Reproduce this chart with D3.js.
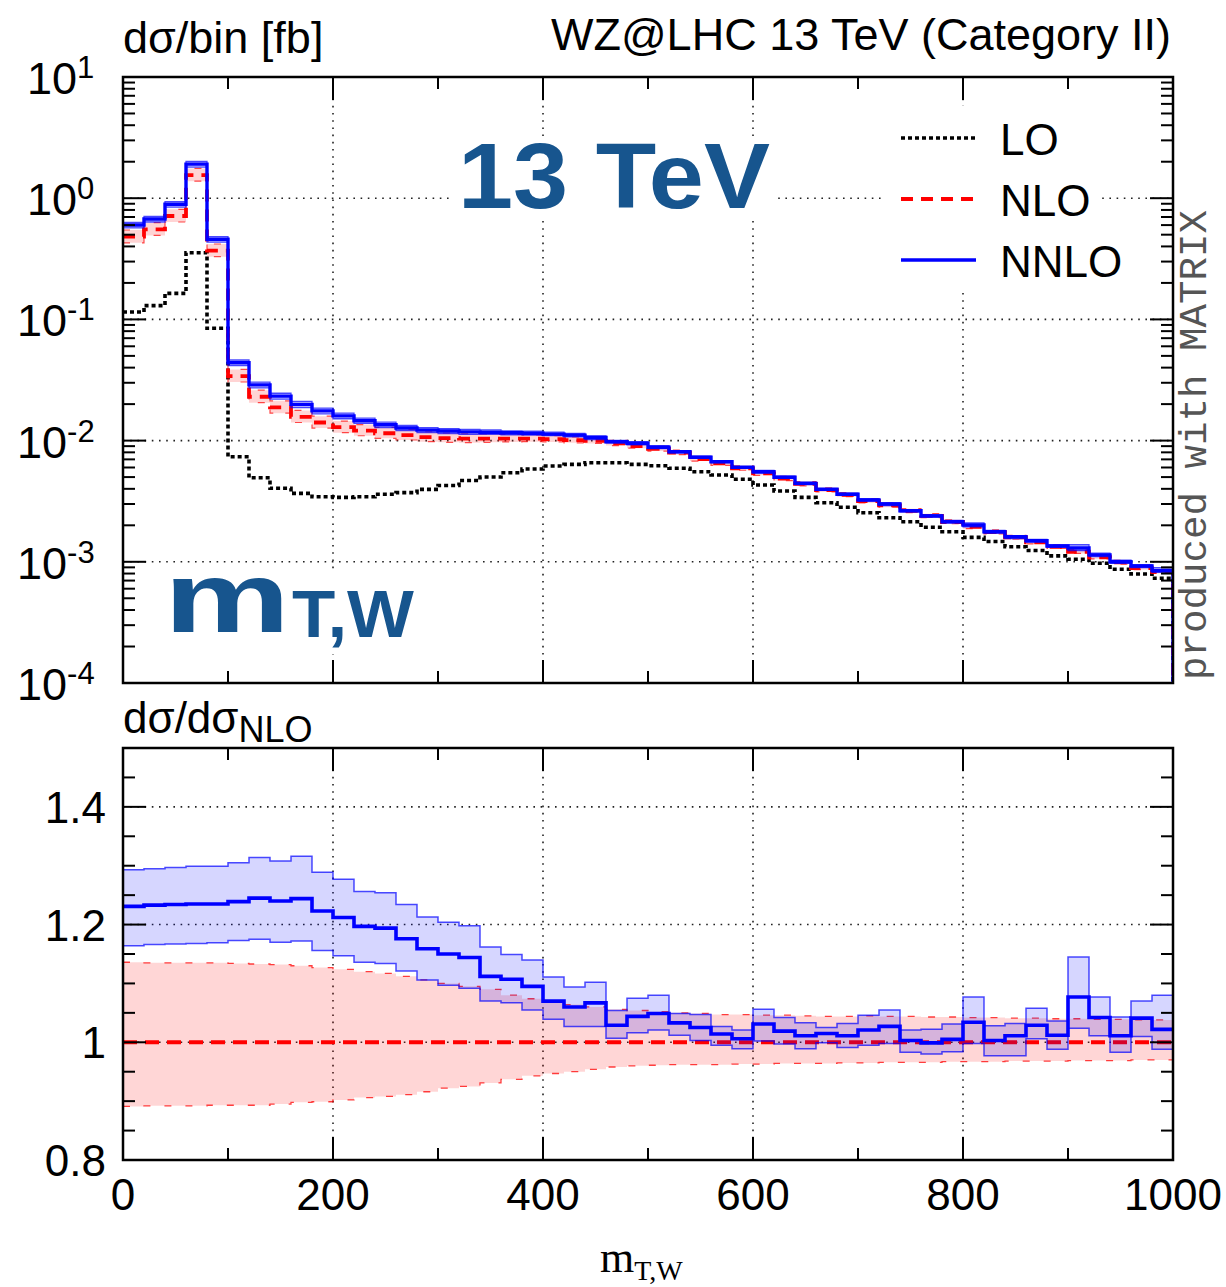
<!DOCTYPE html>
<html>
<head>
<meta charset="utf-8">
<script src="https://cdn.jsdelivr.net/npm/d3@7"></script>
<style>
  body { margin: 0; background: #fff; }
  svg { display: block; }
  text { font-family: "Liberation Sans", Arial, Helvetica, sans-serif; }
</style>
</head>
<body>
<svg id="chart" width="1226" height="1287"></svg>
<script>
// ---- data: m_T,W distribution, 20 GeV bins ----
const binEdges = [0, 20, 40, 60, 80, 100, 120, 140, 160, 180, 200, 220, 240, 260, 280, 300, 320, 340, 360, 380,
  400, 420, 440, 460, 480, 500, 520, 540, 560, 580, 600, 620, 640, 660, 680, 700, 720, 740, 760, 780,
  800, 820, 840, 860, 880, 900, 920, 940, 960, 980, 1000];

// dsigma/bin [fb]
const sigmaLO = [0.115, 0.130, 0.164, 0.355, 0.0845, 0.00736, 0.00494, 0.00404, 0.00367, 0.00344,
  0.00340, 0.00344, 0.00361, 0.00372, 0.00396, 0.00426, 0.00469, 0.00501, 0.00543, 0.00583,
  0.00617, 0.00637, 0.00657, 0.00657, 0.00637, 0.00621, 0.00591, 0.00554, 0.00520, 0.00480,
  0.00430, 0.00384, 0.00340, 0.00307, 0.00282, 0.00254, 0.00231, 0.00214, 0.00193, 0.00177,
  0.00159, 0.00147, 0.00133, 0.00124, 0.00112, 0.00105, 0.000973, 0.000867, 0.000793, 0.000731];

const sigmaNLO = [0.481, 0.553, 0.713, 1.55, 0.369, 0.0341, 0.0230, 0.0188, 0.0157, 0.0141,
  0.0129, 0.0121, 0.0115, 0.0111, 0.0107, 0.0105, 0.0104, 0.0104, 0.0104, 0.0104,
  0.0103, 0.0101, 0.00993, 0.00950, 0.00902, 0.00853, 0.00795, 0.00705, 0.00650, 0.00591,
  0.00537, 0.00485, 0.00439, 0.00391, 0.00357, 0.00317, 0.00292, 0.00263, 0.00239, 0.00213,
  0.00194, 0.00176, 0.00159, 0.00145, 0.00133, 0.00121, 0.00109, 0.000989, 0.000887, 0.000827];

const sigmaNNLO = [0.601, 0.673, 0.891, 1.91, 0.458, 0.0439, 0.0288, 0.0233, 0.0199, 0.0176,
  0.0160, 0.0146, 0.0135, 0.0127, 0.0122, 0.0120, 0.0118, 0.0117, 0.0116, 0.0115,
  0.0113, 0.0111, 0.0106, 0.00979, 0.00950, 0.00881, 0.00810, 0.00728, 0.00670, 0.00602,
  0.00554, 0.00498, 0.00444, 0.00397, 0.00361, 0.00324, 0.00300, 0.00264, 0.00239, 0.00214,
  0.00201, 0.00177, 0.00161, 0.00149, 0.00135, 0.00130, 0.00114, 0.00100, 0.000923, 0.000845];

// ratios to the central NLO prediction, with scale-variation envelopes
const ratioNLOUp = [1.136, 1.135, 1.135, 1.135, 1.135, 1.134, 1.133, 1.132, 1.130, 1.127,
  1.124, 1.120, 1.117, 1.112, 1.106, 1.100, 1.095, 1.090, 1.080, 1.074,
  1.069, 1.064, 1.060, 1.056, 1.054, 1.052, 1.050, 1.049, 1.047, 1.047,
  1.046, 1.046, 1.045, 1.044, 1.044, 1.045, 1.044, 1.044, 1.043, 1.043,
  1.042, 1.042, 1.041, 1.041, 1.040, 1.040, 1.039, 1.039, 1.038, 1.038];
const ratioNLODown = [0.891, 0.892, 0.892, 0.892, 0.893, 0.893, 0.893, 0.895, 0.898, 0.899,
  0.902, 0.906, 0.908, 0.911, 0.916, 0.922, 0.925, 0.931, 0.937, 0.943,
  0.947, 0.950, 0.954, 0.958, 0.960, 0.961, 0.962, 0.962, 0.962, 0.963,
  0.963, 0.964, 0.964, 0.964, 0.965, 0.965, 0.966, 0.966, 0.966, 0.967,
  0.967, 0.967, 0.968, 0.968, 0.968, 0.969, 0.969, 0.969, 0.970, 0.970];
const ratioNLO = [1, 1, 1, 1, 1, 1, 1, 1, 1, 1, 1, 1, 1, 1, 1, 1, 1, 1, 1, 1, 1, 1, 1, 1, 1,
  1, 1, 1, 1, 1, 1, 1, 1, 1, 1, 1, 1, 1, 1, 1, 1, 1, 1, 1, 1, 1, 1, 1, 1, 1];

const ratioNNLO = [1.231, 1.233, 1.234, 1.235, 1.235, 1.239, 1.245, 1.240, 1.244, 1.223,
  1.212, 1.197, 1.194, 1.176, 1.159, 1.150, 1.144, 1.112, 1.107, 1.095,
  1.070, 1.060, 1.067, 1.029, 1.044, 1.049, 1.033, 1.025, 1.014, 1.006,
  1.031, 1.019, 1.011, 1.015, 1.011, 1.021, 1.027, 1.003, 0.999, 1.005,
  1.034, 1.003, 1.011, 1.029, 1.012, 1.077, 1.042, 1.011, 1.041, 1.022];
const ratioNNLOUp = [1.293, 1.295, 1.297, 1.299, 1.299, 1.305, 1.314, 1.308, 1.316, 1.289,
  1.277, 1.256, 1.254, 1.234, 1.213, 1.204, 1.198, 1.162, 1.149, 1.140,
  1.111, 1.094, 1.102, 1.054, 1.075, 1.080, 1.049, 1.047, 1.027, 1.021,
  1.056, 1.042, 1.033, 1.025, 1.032, 1.046, 1.055, 1.021, 1.022, 1.031,
  1.077, 1.028, 1.032, 1.058, 1.036, 1.145, 1.077, 1.043, 1.070, 1.080];
const ratioNNLODown = [1.164, 1.166, 1.167, 1.168, 1.169, 1.173, 1.175, 1.170, 1.172, 1.156,
  1.147, 1.136, 1.134, 1.121, 1.106, 1.097, 1.092, 1.070, 1.067, 1.055,
  1.039, 1.027, 1.027, 1.007, 1.016, 1.021, 1.012, 1.003, 0.995, 0.989,
  1.002, 0.997, 0.989, 0.999, 0.991, 0.995, 0.998, 0.983, 0.980, 0.984,
  0.998, 0.977, 0.977, 1.006, 0.988, 1.024, 1.011, 0.983, 1.010, 0.988];

// axes
const xMajorTicks = [0, 200, 400, 600, 800, 1000];
const xMinorTicks = [100, 300, 500, 700, 900];
const xTickLabels = ["0", "200", "400", "600", "800", "1000"];
const logExponents = [1, 0, -1, -2, -3, -4];
const logExponentLabels = ["1", "0", "-1", "-2", "-3", "-4"];
const ratioMajorTicks = [0.8, 1.0, 1.2, 1.4];
const ratioTickLabels = ["0.8", "1", "1.2", "1.4"];
const legendNames = ["LO", "NLO", "NNLO"];

// ---- layout ----
const svg = d3.select("#chart");
const L = 123, R = 1173;
const topPanel = { top: 77, bottom: 683 };
const ratPanel = { top: 748, bottom: 1160 };

const x = d3.scaleLinear().domain([0, 1000]).range([L, R]);
const y = d3.scaleLog().domain([1e-4, 10]).range([topPanel.bottom, topPanel.top]);
const yr = d3.scaleLinear().domain([0.8, 1.5]).range([ratPanel.bottom, ratPanel.top]);

const BLUE_DARK = "#17558e";
const MAJ = 23, MIN = 12;
const LO_DASH = "4,3", NLO_DASH = "12,8";

const defs = svg.append("defs");
defs.append("clipPath").attr("id", "clipTop").append("rect")
  .attr("x", L).attr("y", topPanel.top).attr("width", R - L).attr("height", topPanel.bottom - topPanel.top);
defs.append("clipPath").attr("id", "clipRat").append("rect")
  .attr("x", L).attr("y", ratPanel.top).attr("width", R - L).attr("height", ratPanel.bottom - ratPanel.top);

// ---- grids ----
function grid(g, yScale, yVals, panel) {
  const gg = g.append("g").attr("stroke", "#222").attr("stroke-width", 1.6)
    .attr("stroke-dasharray", "1.6,5.6").attr("fill", "none");
  [200, 400, 600, 800].forEach(v => {
    gg.append("line").attr("x1", x(v)).attr("x2", x(v)).attr("y1", panel.top).attr("y2", panel.bottom);
  });
  yVals.forEach(v => {
    gg.append("line").attr("x1", L).attr("x2", R).attr("y1", yScale(v)).attr("y2", yScale(v));
  });
}
grid(svg, y, [1, 0.1, 0.01, 0.001], topPanel);
grid(svg, yr, [1.0, 1.2, 1.4], ratPanel);

// ---- boxed labels in the upper panel ----
svg.append("rect").attr("x", 452).attr("y", 136).attr("width", 326).attr("height", 80).attr("fill", "#fff");
svg.append("rect").attr("x", 158).attr("y", 570).attr("width", 262).attr("height", 84).attr("fill", "#fff");
svg.append("rect").attr("x", 885).attr("y", 106).attr("width", 213).attr("height", 186).attr("fill", "#fff");

svg.append("text").attr("x", 458).attr("y", 208)
  .attr("font-family", "Lato, 'Open Sans', sans-serif").attr("font-weight", 900)
  .attr("font-size", 92).attr("fill", BLUE_DARK)
  .attr("textLength", 312).attr("lengthAdjust", "spacingAndGlyphs")
  .text("13 TeV");

svg.append("text").attr("x", 164).attr("y", 632)
  .attr("font-family", "Lato, 'Open Sans', sans-serif").attr("font-weight", 900)
  .attr("font-size", 100).attr("fill", BLUE_DARK)
  .attr("textLength", 126).attr("lengthAdjust", "spacingAndGlyphs").text("m");
svg.append("text").attr("x", 292).attr("y", 637)
  .attr("font-family", "Lato, 'Open Sans', sans-serif").attr("font-weight", 900)
  .attr("font-size", 66).attr("fill", BLUE_DARK)
  .attr("textLength", 122).attr("lengthAdjust", "spacingAndGlyphs").text("T,W");

// ---- histogram helpers ----
const pts = vals => vals.map((v, i) => [binEdges[i], v]).concat([[binEdges[binEdges.length - 1], vals[vals.length - 1]]]);
const stepLineTop = d3.line().curve(d3.curveStepAfter)
  .x(d => x(d[0])).y(d => d[1] === null ? topPanel.bottom + 2 : y(d[1]));
const withDrop = vals => pts(vals).concat([[1000, null]]);
const bandTop = d3.area().curve(d3.curveStepAfter)
  .x(d => x(d[0])).y0(d => y(d[1])).y1(d => y(d[2]));
const bandPts = (lo, hi) => lo.map((v, i) => [binEdges[i], v, hi[i]])
  .concat([[binEdges[binEdges.length - 1], lo[lo.length - 1], hi[hi.length - 1]]]);

// ---- upper panel curves ----
const gTop = svg.append("g").attr("clip-path", "url(#clipTop)");

const nloLo = sigmaNLO.map((v, i) => v * ratioNLODown[i]);
const nloHi = sigmaNLO.map((v, i) => v * ratioNLOUp[i]);
const nnloLo = sigmaNNLO.map((v, i) => v * ratioNNLODown[i] / ratioNNLO[i]);
const nnloHi = sigmaNNLO.map((v, i) => v * ratioNNLOUp[i] / ratioNNLO[i]);

gTop.append("path").attr("d", stepLineTop(withDrop(sigmaLO)))
  .attr("fill", "none").attr("stroke", "#000").attr("stroke-width", 3.6).attr("stroke-dasharray", LO_DASH);

gTop.append("path").attr("d", bandTop(bandPts(nloLo, nloHi))).attr("fill", "rgba(255,0,0,0.17)");
[nloLo, nloHi].forEach(arr => gTop.append("path").attr("d", stepLineTop(withDrop(arr)))
  .attr("fill", "none").attr("stroke", "rgba(255,0,0,0.7)").attr("stroke-width", 1.2).attr("stroke-dasharray", "7,12"));
gTop.append("path").attr("d", stepLineTop(withDrop(sigmaNLO)))
  .attr("fill", "none").attr("stroke", "#ff0000").attr("stroke-width", 3.8).attr("stroke-dasharray", NLO_DASH);

gTop.append("path").attr("d", bandTop(bandPts(nnloLo, nnloHi))).attr("fill", "rgba(0,0,255,0.17)");
[nnloLo, nnloHi].forEach(arr => gTop.append("path").attr("d", stepLineTop(withDrop(arr)))
  .attr("fill", "none").attr("stroke", "rgba(0,0,255,0.7)").attr("stroke-width", 1.3));
gTop.append("path").attr("d", stepLineTop(withDrop(sigmaNNLO)))
  .attr("fill", "none").attr("stroke", "#0000ff").attr("stroke-width", 3.4);

// ---- ratio panel ----
const stepLineRat = d3.line().curve(d3.curveStepAfter).x(d => x(d[0])).y(d => yr(d[1]));
const bandRat = d3.area().curve(d3.curveStepAfter).x(d => x(d[0])).y0(d => yr(d[1])).y1(d => yr(d[2]));
const gRat = svg.append("g").attr("clip-path", "url(#clipRat)");

gRat.append("path").attr("d", bandRat(bandPts(ratioNLODown, ratioNLOUp))).attr("fill", "rgba(255,0,0,0.16)");
gRat.append("path").attr("d", stepLineRat(pts(ratioNLO)))
  .attr("fill", "none").attr("stroke", "#ff0000").attr("stroke-width", 4).attr("stroke-dasharray", "14,8");
[ratioNLODown, ratioNLOUp].forEach(arr => gRat.append("path").attr("d", stepLineRat(pts(arr)))
  .attr("fill", "none").attr("stroke", "rgba(255,0,0,0.75)").attr("stroke-width", 1.3).attr("stroke-dasharray", "7,14"));

gRat.append("path").attr("d", bandRat(bandPts(ratioNNLODown, ratioNNLOUp))).attr("fill", "rgba(0,0,255,0.16)");
[ratioNNLODown, ratioNNLOUp].forEach(arr => gRat.append("path").attr("d", stepLineRat(pts(arr)))
  .attr("fill", "none").attr("stroke", "rgba(0,0,255,0.7)").attr("stroke-width", 1.5));
gRat.append("path").attr("d", stepLineRat(pts(ratioNNLO)))
  .attr("fill", "none").attr("stroke", "#0000ff").attr("stroke-width", 3.6);

// ---- frames and ticks ----
function xTicks(panel) {
  const g = svg.append("g").attr("stroke", "#000").attr("stroke-width", 2);
  xMajorTicks.forEach(v => {
    g.append("line").attr("x1", x(v)).attr("x2", x(v)).attr("y1", panel.bottom).attr("y2", panel.bottom - MAJ);
    g.append("line").attr("x1", x(v)).attr("x2", x(v)).attr("y1", panel.top).attr("y2", panel.top + MAJ);
  });
  xMinorTicks.forEach(v => {
    g.append("line").attr("x1", x(v)).attr("x2", x(v)).attr("y1", panel.bottom).attr("y2", panel.bottom - MIN);
    g.append("line").attr("x1", x(v)).attr("x2", x(v)).attr("y1", panel.top).attr("y2", panel.top + MIN);
  });
}
function yTicks(scale, majors, minors) {
  const g = svg.append("g").attr("stroke", "#000").attr("stroke-width", 2);
  majors.forEach(v => {
    g.append("line").attr("x1", L).attr("x2", L + MAJ).attr("y1", scale(v)).attr("y2", scale(v));
    g.append("line").attr("x1", R).attr("x2", R - MAJ).attr("y1", scale(v)).attr("y2", scale(v));
  });
  minors.forEach(v => {
    g.append("line").attr("x1", L).attr("x2", L + MIN).attr("y1", scale(v)).attr("y2", scale(v));
    g.append("line").attr("x1", R).attr("x2", R - MIN).attr("y1", scale(v)).attr("y2", scale(v));
  });
}

const logMajors = logExponents.map(e => Math.pow(10, e));
const logMinors = y.ticks().filter(v => !logMajors.some(m => Math.abs(m - v) / m < 1e-6));
yTicks(y, logMajors, logMinors);
xTicks(topPanel);

const ratMinors = yr.ticks(14).filter(v => !ratioMajorTicks.some(m => Math.abs(m - v) < 1e-6));
yTicks(yr, ratioMajorTicks, ratMinors);
xTicks(ratPanel);

[topPanel, ratPanel].forEach(p => svg.append("rect")
  .attr("x", L).attr("y", p.top).attr("width", R - L).attr("height", p.bottom - p.top)
  .attr("fill", "none").attr("stroke", "#000").attr("stroke-width", 2.5));

// ---- tick labels ----
logExponents.forEach((e, i) => {
  const t = svg.append("text").attr("x", e < 0 ? 17 : 27).attr("y", y(Math.pow(10, e)) + 17)
    .attr("font-size", 45).attr("fill", "#000");
  t.append("tspan").text("10");
  t.append("tspan").attr("font-size", 31).attr("dy", -16).text(logExponentLabels[i]);
});
ratioMajorTicks.forEach((v, i) => {
  svg.append("text").attr("x", 106).attr("y", yr(v) + 16).attr("text-anchor", "end")
    .attr("font-size", 44).attr("fill", "#000").text(ratioTickLabels[i]);
});
xMajorTicks.forEach((v, i) => {
  svg.append("text").attr("x", x(v)).attr("y", 1210).attr("text-anchor", "middle")
    .attr("font-size", 44).attr("fill", "#000").text(xTickLabels[i]);
});

// ---- titles ----
svg.append("text").attr("x", 123).attr("y", 53).attr("font-size", 45).text("dσ/bin [fb]");
svg.append("text").attr("x", 1171).attr("y", 50).attr("text-anchor", "end").attr("font-size", 45)
  .text("WZ@LHC 13 TeV (Category II)");

const rt = svg.append("text").attr("x", 123).attr("y", 733).attr("font-size", 44);
rt.append("tspan").text("dσ/dσ");
rt.append("tspan").attr("font-size", 36).attr("dy", 9).text("NLO");

const xt = svg.append("text").attr("x", 600).attr("y", 1272)
  .style("font-family", "'Liberation Serif', 'Times New Roman', serif").attr("font-size", 44);
xt.append("tspan").text("m");
xt.append("tspan").attr("font-size", 28).attr("dy", 8).text("T,W");

svg.append("text").attr("transform", "translate(1206,680) rotate(-90)")
  .style("font-family", "'Liberation Mono', 'DejaVu Sans Mono', monospace")
  .attr("font-size", 39).attr("fill", "#555")
  .attr("textLength", 470).attr("lengthAdjust", "spacingAndGlyphs")
  .text("produced with MATRIX");

// ---- legend ----
const legendStyles = [
  { stroke: "#000", width: 3.6, dash: LO_DASH },
  { stroke: "#ff0000", width: 3.8, dash: NLO_DASH },
  { stroke: "#0000ff", width: 3.4, dash: null }
];
const legendY = d3.scalePoint().domain(legendNames).range([138, 260]);
legendNames.forEach((name, i) => {
  const ly = legendY(name);
  const s = legendStyles[i];
  svg.append("line").attr("x1", 901).attr("x2", 976).attr("y1", ly).attr("y2", ly)
    .attr("stroke", s.stroke).attr("stroke-width", s.width)
    .attr("stroke-dasharray", s.dash);
  svg.append("text").attr("x", 1000).attr("y", ly + 16.5).attr("font-size", 44).text(name);
});
</script>
</body>
</html>
